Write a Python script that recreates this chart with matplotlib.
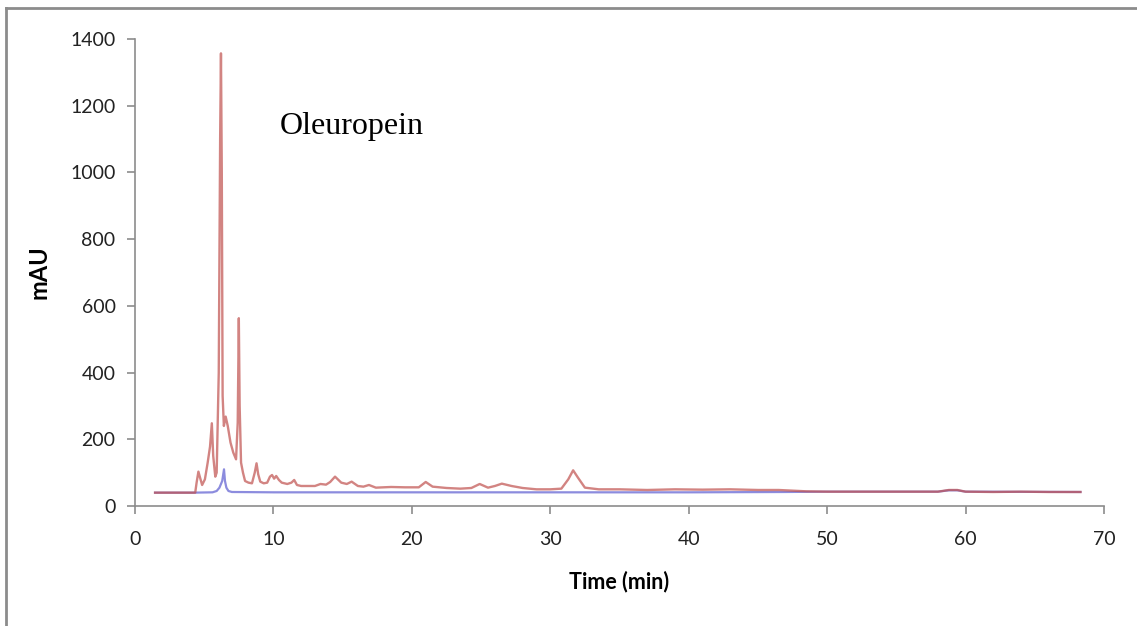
import matplotlib
matplotlib.use('Agg')
import matplotlib.pyplot as plt
from matplotlib.lines import Line2D

# red trace (sample) - retention time (min) and absorbance (mAU)
red_t = [1.45, 4.35, 4.45, 4.58, 4.7, 4.85, 5.05, 5.25, 5.42, 5.55, 5.65, 5.8, 5.9,
         6.05, 6.15, 6.21, 6.27, 6.33, 6.42, 6.55, 6.7, 6.9, 7.1, 7.3, 7.42, 7.5,
         7.56, 7.66, 7.8, 7.95, 8.2, 8.45, 8.65, 8.78, 8.9, 9.05, 9.3, 9.55, 9.75,
         9.9, 10.05, 10.2, 10.4, 10.6, 11.0, 11.3, 11.5, 11.7, 12.0, 13.0, 13.4,
         13.8, 14.1, 14.45, 14.9, 15.3, 15.65, 16.1, 16.5, 16.9, 17.4, 18.5, 19.5,
         20.5, 21.0, 21.5, 22.5, 23.5, 24.3, 24.9, 25.5, 26.0, 26.5, 27.2, 28.0,
         29.0, 30.0, 30.8, 31.3, 31.65, 32.0, 32.5, 33.5, 35.0, 37.0, 39.0, 41.0,
         43.0, 45.0, 46.5, 47.5, 48.5, 50.0, 55.0, 58.0, 58.8, 59.4, 60.0, 62.0,
         64.0, 66.0, 68.3]
red_v = [40, 40, 70, 103, 85, 63, 80, 130, 178, 248, 150, 88, 100,
         400, 1100, 1357, 1000, 330, 240, 268, 240, 190, 160, 140, 250, 563,
         300, 130, 100, 75, 70, 68, 100, 128, 95, 73, 68, 70, 88,
         93, 82, 90, 78, 70, 66, 70, 78, 63, 60, 60, 66,
         64, 72, 88, 70, 66, 73, 60, 58, 63, 55, 57, 56,
         56, 72, 58, 54, 52, 54, 66, 55, 60, 67, 60, 54,
         50, 50, 52, 80, 107, 85, 55, 50, 50, 48, 50, 49,
         50, 48, 48, 46, 44, 43, 43, 43, 48, 48, 43, 42,
         43, 42, 42]

# blue trace (standard)
blue_t = [1.45, 4.2, 5.6, 5.9, 6.1, 6.3, 6.43, 6.5, 6.6, 6.75, 7.0, 10, 20, 30,
          40, 47, 50, 58.0, 58.8, 59.4, 60.0, 68.3]
blue_v = [40, 40, 41, 45, 55, 75, 110, 75, 55, 45, 42, 41, 41, 41,
          41, 42, 43, 43, 47, 47, 43, 42]

x_ticks = [0, 10, 20, 30, 40, 50, 60, 70]
y_ticks = [0, 200, 400, 600, 800, 1000, 1200, 1400]

fig = plt.figure(figsize=(11.37, 6.26), dpi=100)
ax = fig.add_axes([135 / 1137, 1 - 506 / 626, (1104 - 135) / 1137, (506 - 39) / 626])

ax.plot(blue_t, blue_v, color='#4040c8', lw=1.6, alpha=0.6)
ax.plot(red_t, red_v, color='#c0504d', lw=1.7, alpha=0.7)

ax.set_xlim(0, 70)
ax.set_ylim(0, 1400)
ax.set_xticks(x_ticks)
ax.set_yticks(y_ticks)

for s in ['top', 'right']:
    ax.spines[s].set_visible(False)
for s in ['left', 'bottom']:
    ax.spines[s].set_color('#8c8c8c')
    ax.spines[s].set_linewidth(1.2)

ax.tick_params(axis='both', color='#8c8c8c', length=6, width=1.2, labelcolor='#222222')
ax.tick_params(axis='x', pad=12)
ax.tick_params(axis='y', pad=8)
for lab in ax.get_xticklabels() + ax.get_yticklabels():
    lab.set_fontfamily(['Lato', 'DejaVu Sans'])
    lab.set_fontsize(14)

ax.set_xlabel('Time (min)', fontsize=15.5, fontweight='bold', family=['Lato', 'DejaVu Sans'], labelpad=16)
ax.set_ylabel('mAU', fontsize=17, fontweight='bold', family=['Lato', 'DejaVu Sans'], labelpad=14)

ax.text(280 / 1137, 1 - 134 / 626, 'Oleuropein', transform=fig.transFigure,
        fontsize=23, family=['Liberation Serif', 'DejaVu Serif'], color='black')

# outer frame (only top and left edges visible)
fig.add_artist(Line2D([6 / 1137, 6 / 1137], [0, 1 - 8 / 626], transform=fig.transFigure,
                      color='#8c8c8c', lw=2))
fig.add_artist(Line2D([6 / 1137, 1], [1 - 8 / 626, 1 - 8 / 626], transform=fig.transFigure,
                      color='#8c8c8c', lw=2))

fig.savefig('out.png', dpi=100)
